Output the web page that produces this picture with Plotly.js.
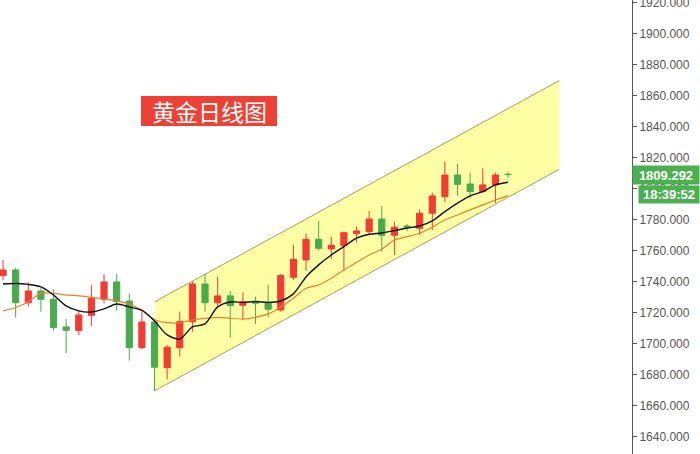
<!DOCTYPE html>
<html>
<head>
<meta charset="utf-8">
<script src="https://cdn.plot.ly/plotly-3.0.1.min.js"></script>
<style>
html,body{margin:0;padding:0;background:#fff;}
#chart{width:700px;height:454px;}
</style>
</head>
<body>
<div id="chart"></div>
<script>
// ---- data ----
const idx = [0,1,2,3,4,5,6,7,8,9,10,11,12,13,14,15,16,17,18,19,20,21,22,23,24,25,26,27,28,29,30,31,32,33,34,35,36,37,38,39,40];
const openP  = [1744.1,1747.7,1726.6,1734.2,1728.8,1711.0,1708.6,1718.5,1728.8,1740.0,1727.7,1697.6,1714.2,1684.7,1697.6,1714.4,1738.7,1726.6,1731.0,1725.0,1727.7,1726.6,1721.9,1743.0,1754.2,1767.5,1761.3,1763.4,1771.2,1772.5,1780.6,1770.1,1776.1,1774.6,1784.3,1795.0,1809.0,1803.2,1798.3,1802.6,1809.5];
const highP  = [1754.2,1749.0,1739.8,1736.0,1735.3,1716.1,1721.5,1738.1,1745.0,1745.2,1732.5,1720.8,1715.5,1699.4,1720.8,1740.2,1745.2,1743.4,1734.2,1733.1,1730.5,1738.1,1745.2,1763.9,1771.4,1779.5,1769.2,1772.5,1775.7,1785.8,1789.0,1778.9,1777.4,1786.9,1797.6,1817.6,1816.1,1810.5,1813.4,1810.5,1811.2];
const lowP   = [1741.3,1717.0,1724.1,1720.8,1708.6,1694.0,1705.6,1711.6,1726.3,1721.5,1689.2,1696.6,1669.7,1677.2,1691.8,1707.9,1720.8,1724.1,1704.1,1715.5,1712.7,1717.2,1720.8,1741.3,1747.3,1760.2,1754.6,1747.1,1765.3,1770.8,1759.5,1757.4,1772.9,1770.3,1773.5,1791.4,1795.5,1794.0,1797.6,1790.8,1807.3];
const closeP = [1747.7,1726.6,1734.2,1728.8,1710.5,1708.8,1718.7,1729.5,1740.0,1727.3,1697.6,1714.2,1685.0,1697.9,1714.4,1738.7,1726.6,1731.0,1724.7,1727.1,1726.3,1722.4,1744.1,1754.6,1767.5,1761.7,1763.7,1771.8,1772.9,1780.6,1770.1,1775.3,1775.5,1784.3,1795.5,1809.0,1803.0,1798.3,1802.6,1809.0,1809.292];
const maFast = [1738.7,1739.0,1738.4,1736.8,1731.6,1724.5,1721.3,1720.6,1722.6,1725.8,1723.9,1721.6,1714.8,1705.8,1703.2,1711.0,1712.9,1723.9,1727.1,1726.8,1727.3,1726.8,1727.7,1732.3,1743.2,1751.0,1757.4,1762.8,1768.2,1770.8,1771.6,1773.1,1774.8,1776.1,1779.4,1785.4,1790.8,1795.5,1798.3,1802.6,1804.3];
const maSlow = [1721.3,1723.5,1727.1,1732.6,1732.6,1731.6,1731.0,1730.1,1729.0,1727.7,1725.8,1721.9,1715.8,1713.7,1713.7,1715.5,1716.5,1717.2,1716.5,1716.1,1717.2,1719.4,1723.9,1729.5,1735.9,1738.1,1742.4,1747.7,1752.5,1757.4,1761.1,1767.1,1769.2,1771.4,1775.3,1780.0,1783.2,1786.5,1789.7,1792.9,1795.7];
const yTicks = [1640,1660,1680,1700,1720,1740,1760,1780,1800,1820,1840,1860,1880,1900,1920];
const lastPrice = 1809.292;
const lastTime = "18:39:52";
const titleText = "黄金日线图";
// channel drawing (index, price)
const chanX = [12.04, 44.06];
const chanTop = [1727.3, 1869.9];
const chanBot = [1669.9, 1812.7];

const RED = '#f03c32', GREEN = '#4aab4e';
const W = 632, H = 454; // plot area in px

const traces = [
  {
    type: 'candlestick', x: idx, open: openP, high: highP, low: lowP, close: closeP,
    increasing: {line: {color: RED, width: 1}, fillcolor: RED},
    decreasing: {line: {color: GREEN, width: 1}, fillcolor: GREEN},
    whiskerwidth: 0, showlegend: false, hoverinfo: 'skip'
  },
  {type: 'scatter', mode: 'lines', x: idx, y: maSlow, line: {color: '#ee7d2e', width: 1.2, shape: 'spline', smoothing: 0.8}, showlegend: false, hoverinfo: 'skip'},
  {type: 'scatter', mode: 'lines', x: idx, y: maFast, line: {color: '#111111', width: 1.4, shape: 'spline', smoothing: 0.8}, showlegend: false, hoverinfo: 'skip'}
];

const pathD = `M ${chanX[0]},${chanBot[0]} L ${chanX[0]},${chanTop[0]} L ${chanX[1]},${chanTop[1]} L ${chanX[1]},${chanBot[1]} Z`;

const layout = {
  width: 700, height: 454,
  margin: {l: 0, r: 68, t: 0, b: 0},
  paper_bgcolor: '#ffffff', plot_bgcolor: '#ffffff',
  showlegend: false,
  font: {family: 'Liberation Sans, Arial, sans-serif'},
  xaxis: {range: [-0.24, 49.82], visible: false, rangeslider: {visible: false}, showgrid: false, zeroline: false, fixedrange: true},
  yaxis: {
    side: 'right', range: [1629.0, 1921.9], tickvals: yTicks, tickformat: '.3f',
    showgrid: false, zeroline: false, showline: true, linecolor: '#555', linewidth: 1,
    ticks: 'outside', ticklen: 4, tickcolor: '#555', ticklabeloverflow: 'allow',
    tickfont: {size: 12, color: '#555', family: 'Liberation Sans, Arial, sans-serif'}, fixedrange: true
  },
  shapes: [
    {type: 'path', path: pathD, xref: 'x', yref: 'y', fillcolor: '#ffffa6', line: {width: 0}, layer: 'below'},
    {type: 'line', xref: 'x', yref: 'y', x0: chanX[0], y0: chanTop[0], x1: chanX[1], y1: chanTop[1], line: {color: '#a0a060', width: 1}, layer: 'below'},
    {type: 'line', xref: 'x', yref: 'y', x0: chanX[0], y0: chanBot[0], x1: chanX[1], y1: chanBot[1], line: {color: '#a0a060', width: 1}, layer: 'below'},
    {type: 'rect', xref: 'paper', yref: 'paper', x0: 141/W, x1: 277/W, y0: 1 - 126/H, y1: 1 - 96/H, fillcolor: '#ee4035', line: {width: 0}, layer: 'above'}
  ],
  annotations: [
    {xref: 'paper', yref: 'paper', x: 209/W, y: 1 - 111/H, xanchor: 'center', yanchor: 'middle',
     text: titleText, showarrow: false, borderpad: 0,
     font: {family: 'Noto Sans CJK SC, sans-serif', size: 23, color: '#ffffff'}},
    {xref: 'paper', yref: 'y', x: 1, y: lastPrice, xanchor: 'left', yanchor: 'middle',
     text: '<b>' + lastPrice.toFixed(3) + '</b>', showarrow: false, bgcolor: '#4caf50', borderpad: 1, width: 64, height: 16,
     font: {size: 13, color: '#ffffff', family: 'Liberation Sans, Arial, sans-serif'}},
    {xref: 'paper', yref: 'y', x: 1, y: lastPrice, xanchor: 'left', yanchor: 'middle', xshift: 6, yshift: -19.5,
     text: '<b>' + lastTime + '</b>', showarrow: false, bgcolor: '#4caf50', borderpad: 1, width: 58, height: 15,
     font: {size: 13, color: '#ffffff', family: 'Liberation Sans, Arial, sans-serif'}}
  ]
};

Plotly.newPlot('chart', traces, layout, {displayModeBar: false, staticPlot: true});
</script>
</body>
</html>
